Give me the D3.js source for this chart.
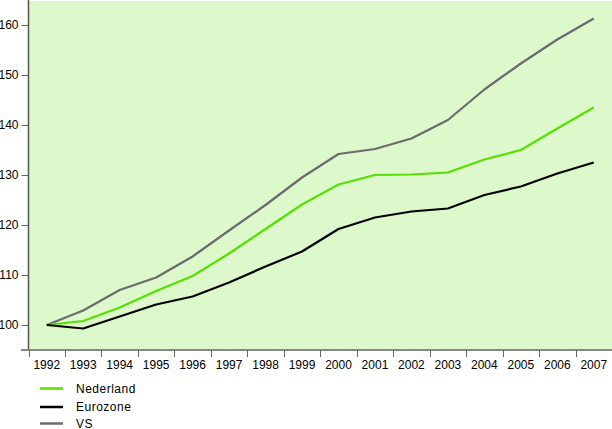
<!DOCTYPE html>
<html><head><meta charset="utf-8">
<script src="https://cdn.jsdelivr.net/npm/d3@7"></script>
<style>
body{margin:0;background:#fff;}
svg{display:block;font-family:"Liberation Sans",Arial,sans-serif;}
</style></head>
<body>
<svg id="c" width="612" height="429"></svg>
<script>
const years = ["1992","1993","1994","1995","1996","1997","1998","1999","2000","2001","2002","2003","2004","2005","2006","2007"];
const nederland = [100,100.8,103.5,106.8,109.8,114.3,119.2,124.1,128.1,130.0,130.1,130.5,133.1,135.0,139.3,143.5];
const eurozone  = [100,99.3,101.7,104.1,105.7,108.5,111.7,114.7,119.2,121.5,122.7,123.3,126.0,127.7,130.3,132.5];
const vs        = [100,102.9,107.0,109.5,113.7,118.9,124.0,129.5,134.2,135.2,137.3,141.0,147.1,152.3,157.1,161.3];
const yTicks = [100,110,120,130,140,150,160];
const seriesNames = ["Nederland","Eurozone","VS"];
const seriesColors = ["#55e000","#000000","#6b6b6b"];
const seriesData = [nederland, eurozone, vs];

(function(){
const svg = d3.select("#c");
const pL = 28.5, pR = 612, pT = 0, pB = 350;
const x = d3.scaleBand().domain(years).range([pL, pR]);
const y = d3.scaleLinear().domain([95,165]).range([pB, pT]);

svg.append("rect").attr("x", pL).attr("y", 1).attr("width", pR-pL).attr("height", pB-1).attr("fill", "#ddf9cb");

// y axis
const yAxis = svg.append("g").attr("transform", `translate(${pL},0)`)
  .call(d3.axisLeft(y).tickValues(yTicks).tickSize(7).tickPadding(3));
yAxis.select(".domain").remove();
yAxis.selectAll(".tick line").attr("stroke","#666");
yAxis.selectAll(".tick text").attr("font-size",12).attr("fill","#000").attr("font-family","Liberation Sans, Arial, sans-serif");
svg.append("line").attr("x1",pL).attr("x2",pL).attr("y1",0).attr("y2",pB).attr("stroke","#555").attr("stroke-width",1.5);

// x axis
svg.append("line").attr("x1",21).attr("x2",pR).attr("y1",pB).attr("y2",pB).attr("stroke","#888").attr("stroke-width",2);
const xAxis = svg.append("g").attr("transform", `translate(0,${pB})`)
  .call(d3.axisBottom(x).tickSize(0).tickPadding(10));
xAxis.select(".domain").remove();
xAxis.selectAll(".tick text").attr("font-size",12).attr("fill","#000").attr("font-family","Liberation Sans, Arial, sans-serif");
const edges = years.map(d => x(d)).concat([pR - 0.5]);
svg.append("g").selectAll("line").data(edges).join("line")
  .attr("x1", d => Math.round(d)+0.5).attr("x2", d => Math.round(d)+0.5)
  .attr("y1", pB).attr("y2", pB+7).attr("stroke","#666");

// lines
const line = d3.line().x((d,i) => x(years[i]) + x.bandwidth()/2).y(d => y(d));
[2,0,1].forEach(k => {
  svg.append("path").datum(seriesData[k]).attr("d", line)
    .attr("fill","none").attr("stroke", seriesColors[k]).attr("stroke-width",2.2)
    .attr("stroke-linejoin","round");
});

// legend
const legY = [388.5, 407, 423.5];
seriesNames.forEach((n,i) => {
  svg.append("line").attr("x1",40).attr("x2",63).attr("y1",legY[i]).attr("y2",legY[i])
    .attr("stroke",seriesColors[i]).attr("stroke-width",2.5);
  svg.append("text").attr("x",76).attr("y",legY[i]+4).attr("font-size",12)
    .attr("letter-spacing","0.5px").attr("fill","#000").text(n);
});
})();
</script>
</body></html>
